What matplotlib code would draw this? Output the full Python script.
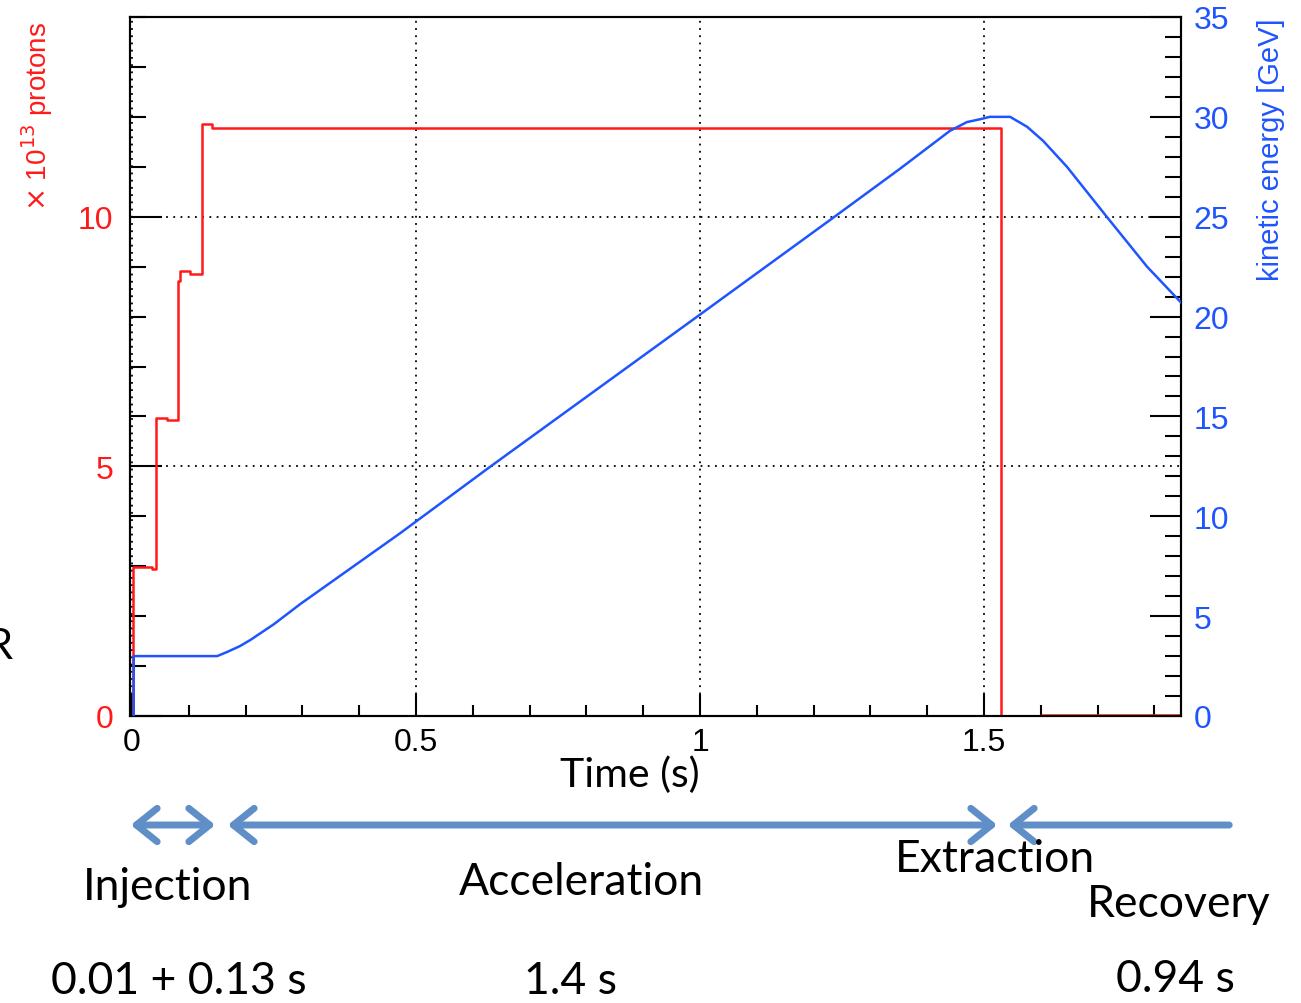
import matplotlib
matplotlib.use("Agg")
import matplotlib.pyplot as plt
from matplotlib.ticker import MultipleLocator

# beam intensity (x 10^13 protons): step levels, value holds from each time on
RED_T = [0.0, 0.002, 0.035, 0.042, 0.062, 0.081, 0.084, 0.103, 0.123, 0.14, 1.530, 1.60, 1.847]
RED_V = [0.0, 2.99, 2.95, 5.96, 5.92, 8.72, 8.92, 8.86, 11.85, 11.77, 0.0, 0.03, 0.03]

# kinetic energy [GeV] over the cycle
BLUE_T = [0.003, 0.003, 0.15, 0.167, 0.19, 0.208, 0.25, 0.296, 0.472, 0.63, 1.0,
          1.234, 1.352, 1.44, 1.47, 1.493, 1.51, 1.546, 1.576, 1.604, 1.646,
          1.716, 1.787, 1.847]
BLUE_E = [0.0, 3.0, 3.0, 3.2, 3.5, 3.8, 4.6, 5.6, 9.15, 12.47, 20.1,
          24.94, 27.4, 29.3, 29.74, 29.88, 30.0, 30.0, 29.5, 28.8, 27.5,
          25.0, 22.5, 20.7]

PHASES = ["Injection", "Acceleration", "Extraction", "Recovery"]
DURATIONS = ["0.01 + 0.13 s", "1.4 s", "0.94 s"]

RED = "#ff1a1a"
BLUE = "#1f55ff"
ARROW = "#5f8fc6"
W, H = 1301, 1004

ROOT_FONT = "Liberation Sans"
NOTE_FONT = "Lato"

fig = plt.figure(figsize=(W / 100, H / 100), dpi=100)
ax = fig.add_axes([130 / W, 1 - 717 / H, 1051 / W, 699 / H])
ax2 = ax.twinx()

ax.set_xlim(-0.0035, 1.8468)
ax.set_ylim(0, 14)
ax2.set_ylim(0, 35)

ax.step(RED_T, RED_V, where="post", color=RED, lw=1.8, zorder=3)
ax2.plot(BLUE_T, BLUE_E, color=BLUE, lw=1.8, zorder=4)

# dotted grid
for xg in [0.0, 0.5, 1.0, 1.5]:
    ax.axvline(xg, color="black", lw=1.3, ls=(0, (1, 3)), zorder=1)
for yg in [5, 10]:
    ax.axhline(yg, color="black", lw=1.3, ls=(0, (1, 3)), zorder=1)

for a in (ax, ax2):
    for s in a.spines.values():
        s.set_linewidth(1.5)
        s.set_color("black")

ax.set_xticks([0, 0.5, 1, 1.5])
ax.set_xticklabels(["0", "0.5", "1", "1.5"])
ax.xaxis.set_minor_locator(MultipleLocator(0.1))
ax.yaxis.set_major_locator(MultipleLocator(5))
ax.yaxis.set_minor_locator(MultipleLocator(1))
ax2.yaxis.set_major_locator(MultipleLocator(5))
ax2.yaxis.set_minor_locator(MultipleLocator(1))

ax.tick_params(axis="x", which="major", direction="in", length=16, width=1.5,
               pad=8, labelsize=23, top=False)
ax.tick_params(axis="x", which="minor", direction="in", length=8, width=1.5, top=False)
ax.tick_params(axis="y", which="major", direction="in", length=23, width=1.5,
               pad=12, labelsize=23, labelcolor=RED, right=False)
ax.tick_params(axis="y", which="minor", direction="in", length=11.5, width=1.5, right=False)
ax2.tick_params(axis="y", which="major", direction="in", length=22, width=1.5,
                pad=9, labelsize=23, labelcolor=BLUE)
ax2.tick_params(axis="y", which="minor", direction="in", length=11.5, width=1.5)

for lab in ax.get_xticklabels() + ax.get_yticklabels() + ax2.get_yticklabels():
    lab.set_fontfamily(ROOT_FONT)

# axis titles
fig.text(37 / W, 1 - 117 / H, r"$\times$ 10$^{13}$ protons", rotation=90, color=RED,
         fontsize=20, family=ROOT_FONT, ha="center", va="center")
fig.text(1271 / W, 1 - 150 / H, "kinetic energy [GeV]", rotation=90, color=BLUE,
         fontsize=21, family=ROOT_FONT, ha="center", va="center")
fig.text(630 / W, 1 - 775 / H, "Time (s)", fontsize=29.5, family=NOTE_FONT,
         ha="center", va="center")


# phase arrows below the time axis
def phase_arrow(x0, x1, style):
    fig.add_artist(matplotlib.patches.FancyArrowPatch(
        (x0 / W, 1 - 826 / H), (x1 / W, 1 - 826 / H),
        transform=fig.transFigure, arrowstyle=style, color=ARROW,
        lw=5, mutation_scale=1, capstyle="round", joinstyle="round"))


phase_arrow(128, 218, "<->,head_length=15,head_width=12")
phase_arrow(225, 1000, "<->,head_length=15,head_width=12")
phase_arrow(1232, 1005, "->,head_length=15,head_width=12")

phase_pos = [(168, 888), (581, 883), (995, 860), (1179, 905)]
for name, (px, py) in zip(PHASES, phase_pos):
    fig.text(px / W, 1 - py / H, name, fontsize=32, family=NOTE_FONT,
             ha="center", va="center")

dur_pos = [(179, 982), (570, 982), (1175, 980)]
for txt, (px, py) in zip(DURATIONS, dur_pos):
    fig.text(px / W, 1 - py / H, txt, fontsize=32, family=NOTE_FONT,
             ha="center", va="center")

fig.text(12 / W, 1 - 647 / H, "R", fontsize=30, family=NOTE_FONT,
         ha="right", va="center")

fig.savefig("out.png", dpi=100)
